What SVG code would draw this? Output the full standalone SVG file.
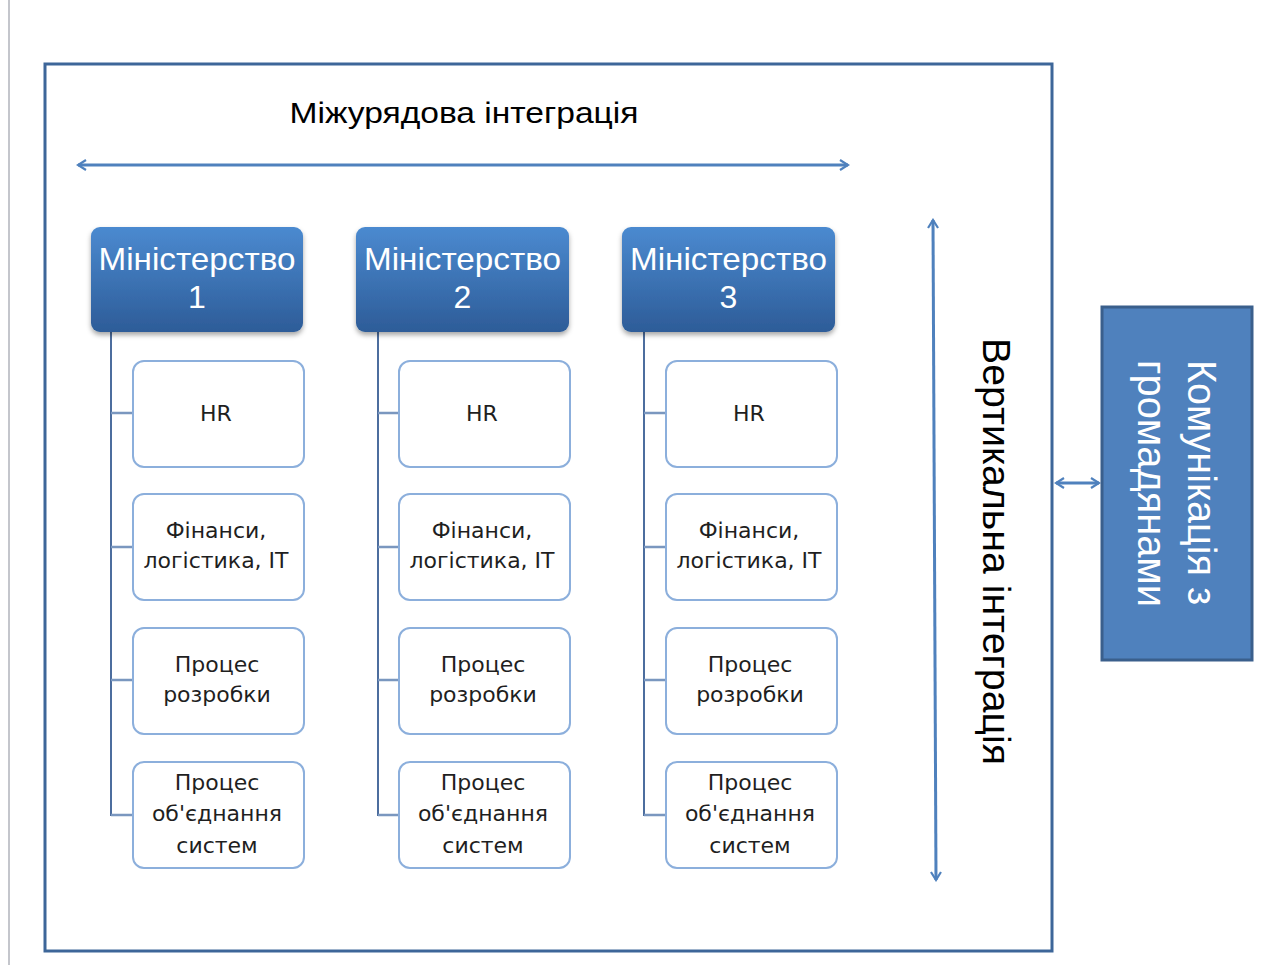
<svg xmlns="http://www.w3.org/2000/svg" width="1262" height="965" viewBox="0 0 1262 965">
<style>
.frame{fill:none;stroke:#3d6699;stroke-width:3}
.arr{fill:none;stroke:#4f81bd;stroke-width:3}
.tree{fill:none;stroke:#4c6d9e;stroke-width:2}
.br{fill:none;stroke:#7a97bf;stroke-width:2.5}
.min{fill:url(#gmin);stroke:none}
.minT{font-family:"Liberation Sans",Arial,sans-serif;font-size:32px;fill:#ffffff;text-anchor:middle}
.child{fill:#ffffff;stroke:#8cafdc;stroke-width:2}
.childT{font-family:"DejaVu Sans",Verdana,sans-serif;font-size:22px;fill:#1f1f1f;text-anchor:middle}
.big{font-family:"Liberation Sans",Arial,sans-serif;fill:#000000}
</style>
<defs>
<linearGradient id="gmin" x1="0" y1="0" x2="0" y2="1">
<stop offset="0" stop-color="#4b8ad0"/>
<stop offset="1" stop-color="#2d5c98"/>
</linearGradient>
<filter id="sh" x="-10%" y="-10%" width="120%" height="130%">
<feDropShadow dx="0" dy="3" stdDeviation="2.5" flood-color="#000" flood-opacity="0.35"/>
</filter>
<marker id="ah" viewBox="0 0 12 12" refX="10" refY="6" markerWidth="12" markerHeight="12" markerUnits="userSpaceOnUse" orient="auto-start-reverse">
<path d="M2,1 L10,6 L2,11" fill="none" stroke="#4f81bd" stroke-width="2.2"/>
</marker>
</defs>
<rect width="1262" height="965" fill="#ffffff"/>
<line x1="9" y1="0" x2="9" y2="965" stroke="#c4c6cc" stroke-width="2"/>
<rect class="frame" x="45" y="64" width="1007" height="887"/>

<text class="big" x="464" y="123" font-size="30" text-anchor="middle" textLength="349" lengthAdjust="spacingAndGlyphs">Міжурядова інтеграція</text>
<text class="big" transform="translate(983,338) rotate(90)" font-size="39" textLength="427" lengthAdjust="spacingAndGlyphs">Вертикальна інтеграція</text>

<g id="connectors">
<line class="arr" x1="78" y1="165" x2="848" y2="165" marker-start="url(#ah)" marker-end="url(#ah)"/>
<line class="arr" stroke-width="2.5" x1="933" y1="220" x2="936" y2="880" marker-start="url(#ah)" marker-end="url(#ah)"/>
<line class="arr" stroke-width="2.5" x1="1056" y1="483" x2="1099" y2="483" marker-start="url(#ah)" marker-end="url(#ah)"/>
<g id="tree1">
<line class="tree" x1="111" y1="332" x2="111" y2="816"/>
<path class="br" d="M111,413H133M111,547H133M111,680H133M111,815H133"/>
</g>
<g id="tree2">
<line class="tree" x1="378" y1="332" x2="378" y2="816"/>
<path class="br" d="M378,413H399M378,547H399M378,680H399M378,815H399"/>
</g>
<g id="tree3">
<line class="tree" x1="644" y1="332" x2="644" y2="816"/>
<path class="br" d="M644,413H666M644,547H666M644,680H666M644,815H666"/>
</g>
</g>

<g id="ministry1">
<rect class="min" filter="url(#sh)" x="91" y="227" width="212" height="105" rx="9"/>
<text class="minT" x="197" y="270" textLength="197" lengthAdjust="spacingAndGlyphs">Міністерство</text>
<text class="minT" x="197" y="308">1</text>
</g>
<g id="ministry2">
<rect class="min" filter="url(#sh)" x="356" y="227" width="213" height="105" rx="9"/>
<text class="minT" x="462.5" y="270" textLength="197" lengthAdjust="spacingAndGlyphs">Міністерство</text>
<text class="minT" x="462.5" y="308">2</text>
</g>
<g id="ministry3">
<rect class="min" filter="url(#sh)" x="622" y="227" width="213" height="105" rx="9"/>
<text class="minT" x="728.5" y="270" textLength="197" lengthAdjust="spacingAndGlyphs">Міністерство</text>
<text class="minT" x="728.5" y="308">3</text>
</g>

<g id="hr1"><rect class="child" x="133" y="361" width="171" height="106" rx="11"/><text class="childT" x="216" y="421">HR</text></g>
<g id="fin1"><rect class="child" x="133" y="494" width="171" height="106" rx="11"/><text class="childT" x="216" y="538">Фінанси,</text><text class="childT" x="216" y="568">логістика, ІТ</text></g>
<g id="dev1"><rect class="child" x="133" y="628" width="171" height="106" rx="11"/><text class="childT" x="217" y="672">Процес</text><text class="childT" x="217" y="702">розробки</text></g>
<g id="int1"><rect class="child" x="133" y="762" width="171" height="106" rx="11"/><text class="childT" x="217" y="790">Процес</text><text class="childT" x="217" y="821">об'єднання</text><text class="childT" x="217" y="853">систем</text></g>

<g id="hr2"><rect class="child" x="399" y="361" width="171" height="106" rx="11"/><text class="childT" x="482" y="421">HR</text></g>
<g id="fin2"><rect class="child" x="399" y="494" width="171" height="106" rx="11"/><text class="childT" x="482" y="538">Фінанси,</text><text class="childT" x="482" y="568">логістика, ІТ</text></g>
<g id="dev2"><rect class="child" x="399" y="628" width="171" height="106" rx="11"/><text class="childT" x="483" y="672">Процес</text><text class="childT" x="483" y="702">розробки</text></g>
<g id="int2"><rect class="child" x="399" y="762" width="171" height="106" rx="11"/><text class="childT" x="483" y="790">Процес</text><text class="childT" x="483" y="821">об'єднання</text><text class="childT" x="483" y="853">систем</text></g>

<g id="hr3"><rect class="child" x="666" y="361" width="171" height="106" rx="11"/><text class="childT" x="749" y="421">HR</text></g>
<g id="fin3"><rect class="child" x="666" y="494" width="171" height="106" rx="11"/><text class="childT" x="749" y="538">Фінанси,</text><text class="childT" x="749" y="568">логістика, ІТ</text></g>
<g id="dev3"><rect class="child" x="666" y="628" width="171" height="106" rx="11"/><text class="childT" x="750" y="672">Процес</text><text class="childT" x="750" y="702">розробки</text></g>
<g id="int3"><rect class="child" x="666" y="762" width="171" height="106" rx="11"/><text class="childT" x="750" y="790">Процес</text><text class="childT" x="750" y="821">об'єднання</text><text class="childT" x="750" y="853">систем</text></g>

<g id="citizens">
<rect x="1102" y="307" width="150" height="353" fill="#4f81bd" stroke="#3a5f8c" stroke-width="3"/>
<g transform="translate(1188,360) rotate(90)" font-family="Liberation Sans, Arial, sans-serif" font-size="40" fill="#ffffff">
<text x="0" y="0" textLength="245" lengthAdjust="spacingAndGlyphs">Комунікація з</text>
<text x="0" y="50" textLength="247" lengthAdjust="spacingAndGlyphs">громадянами</text>
</g>
</g>
</svg>
